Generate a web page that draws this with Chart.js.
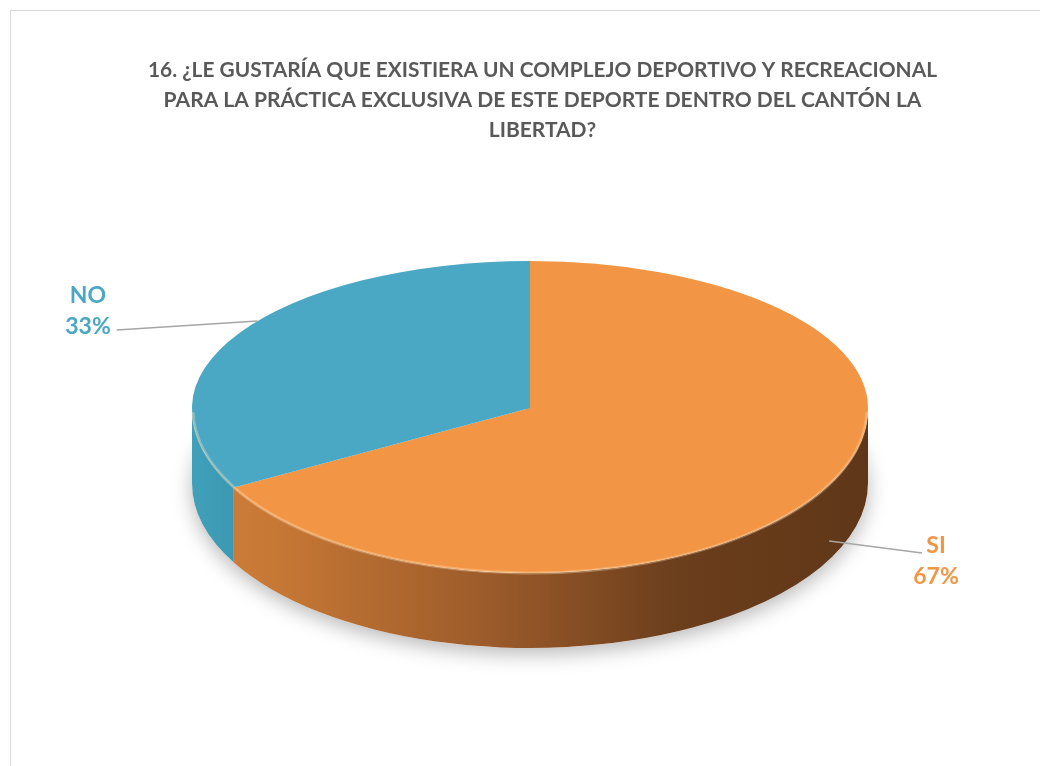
<!DOCTYPE html>
<html lang="es">
<head>
  <meta charset="UTF-8">
  <title>Complejo deportivo y recreacional</title>
  <script src="https://cdn.jsdelivr.net/npm/chart.js"></script>
  <style>
    html, body {
      margin: 0;
      padding: 0;
      background: #fff;
      overflow: hidden;
    }
    .frame {
      position: absolute;
      left: 10px;
      top: 10px;
      width: 1100px;
      height: 900px;
      border: 1px solid #d9d9d9;
    }
    #chart {
      position: absolute;
      left: 0;
      top: 0;
    }
  </style>
</head>
<body>
  <div class="frame"></div>
  <canvas id="chart" width="1040" height="766"></canvas>

  <script>
    // data
    const categories = ['SI', 'NO'];
    const values = [67, 33];
    const topColors = ['#F29544', '#4AA8C4'];
    const titleLines = [
      '16. ¿LE GUSTARÍA QUE EXISTIERA UN COMPLEJO DEPORTIVO Y RECREACIONAL',
      'PARA LA PRÁCTICA EXCLUSIVA DE ESTE DEPORTE DENTRO DEL CANTÓN LA',
      'LIBERTAD?'
    ];

    // where the tilted pie sits on the page
    const pie = { cx: 530, cy: 408, rx: 338, ryBack: 147, ryFront: 165, depth: 75 };

    function sideGradient(ctx, i) {
      const g = ctx.createLinearGradient(pie.cx - pie.rx, 0, pie.cx + pie.rx, 0);
      if (i === 0) {
        g.addColorStop(0, '#cf7f3d');
        g.addColorStop(0.12, '#c77835');
        g.addColorStop(0.45, '#9a5a2a');
        g.addColorStop(0.72, '#6b3e1c');
        g.addColorStop(1, '#5f3718');
      } else {
        g.addColorStop(0, '#40a0ba');
        g.addColorStop(0.1, '#3b93ab');
        g.addColorStop(1, '#2c6f82');
      }
      return g;
    }

    // map an arc angle onto the tilted top face
    function rimPoint(a, drop) {
      const front = Math.sin(a) > 0;
      const ry = front ? pie.ryFront : pie.ryBack;
      return {
        x: pie.cx + pie.rx * Math.cos(a),
        y: pie.cy + ry * Math.sin(a) + (front ? drop : 0)
      };
    }

    const tiltPlugin = {
      id: 'tilt',
      beforeDatasetsDraw(chart) {
        const ctx = chart.ctx;
        const arcs = chart.getDatasetMeta(0).data;
        if (!arcs.length) return false;
        const x0 = arcs[0].x, y0 = arcs[0].y, R = arcs[0].outerRadius;

        // soft shadow under the disc
        ctx.save();
        ctx.shadowColor = 'rgba(0,0,0,0.28)';
        ctx.shadowBlur = 20;
        ctx.shadowOffsetY = 6;
        ctx.fillStyle = '#fff';
        ctx.beginPath();
        ctx.ellipse(pie.cx, pie.cy + pie.depth, pie.rx, pie.ryFront, 0, 0, Math.PI * 2);
        ctx.fill();
        ctx.restore();

        // side walls, front half only
        arcs.forEach((arc, i) => {
          const s = arc.startAngle, e = arc.endAngle;
          for (let k = -1; k <= 1; k++) {
            const off = Math.PI * 2 * k;
            const lo = Math.max(s, off), hi = Math.min(e, Math.PI + off);
            if (lo >= hi) continue;
            const a1 = lo - off, a2 = hi - off;
            ctx.save();
            ctx.beginPath();
            ctx.ellipse(pie.cx, pie.cy, pie.rx, pie.ryFront, 0, a1, a2);
            ctx.ellipse(pie.cx, pie.cy + pie.depth, pie.rx, pie.ryFront, 0, a2, a1, true);
            ctx.closePath();
            ctx.fillStyle = sideGradient(ctx, i);
            ctx.fill();
            ctx.restore();
          }
        });

        // top face: back half and front half drawn with their own squash
        const drawTop = (ry, clipTop, clipBottom) => {
          ctx.save();
          ctx.beginPath();
          ctx.rect(0, clipTop, chart.width, clipBottom - clipTop);
          ctx.clip();
          ctx.translate(pie.cx, pie.cy);
          ctx.scale(pie.rx / R, ry / R);
          ctx.translate(-x0, -y0);
          arcs.forEach(arc => arc.draw(ctx));
          ctx.restore();
        };
        drawTop(pie.ryBack, 0, pie.cy + 1);
        drawTop(pie.ryFront, pie.cy, chart.height);

        // light bevel along the front rim
        ctx.save();
        ctx.beginPath();
        ctx.ellipse(pie.cx, pie.cy + 1, pie.rx - 1, pie.ryFront - 1, 0, 0.02, Math.PI - 0.02);
        ctx.strokeStyle = 'rgba(255,225,190,0.35)';
        ctx.lineWidth = 3;
        ctx.stroke();
        ctx.restore();
        return false;
      },
      afterDraw(chart) {
        const ctx = chart.ctx;
        const arcs = chart.getDatasetMeta(0).data;
        const total = values.reduce((a, b) => a + b, 0);
        // label blocks beside the pie
        const spots = [
          { tx: 936, ty: 546, side: 'right' },
          { tx: 88, ty: 296, side: 'left' }
        ];
        arcs.forEach((arc, i) => {
          const mid = (arc.startAngle + arc.endAngle) / 2;
          const p = rimPoint(mid + (i === 1 ? 0.1 : -0.05), pie.depth * 0.75);
          const sp = spots[i];
          const pct = Math.round(values[i] / total * 100) + '%';
          ctx.save();
          ctx.font = 'bold 23px Lato';
          ctx.fillStyle = topColors[i];
          ctx.textAlign = 'center';
          ctx.textBaseline = 'middle';
          ctx.fillText(categories[i], sp.tx, sp.ty);
          ctx.fillText(pct, sp.tx, sp.ty + 31);
          const w = ctx.measureText(pct).width;
          let ex, ey;
          if (sp.side === 'left') {
            ex = sp.tx + w / 2 + 6;
            ey = sp.ty + 34;
          } else {
            ex = sp.tx - 14;
            ey = sp.ty + 7;
          }
          ctx.beginPath();
          ctx.moveTo(p.x, p.y);
          ctx.lineTo(ex, ey);
          ctx.strokeStyle = '#a6a6a6';
          ctx.lineWidth = 1.5;
          ctx.stroke();
          ctx.restore();
        });
      }
    };

    new Chart(document.getElementById('chart'), {
      type: 'pie',
      data: {
        labels: categories,
        datasets: [{
          data: values,
          backgroundColor: topColors,
          borderWidth: 0
        }]
      },
      options: {
        responsive: false,
        devicePixelRatio: 1,
        animation: false,
        layout: { padding: { left: 148, right: 103, top: 0, bottom: 40 } },
        plugins: {
          legend: { display: false },
          tooltip: { enabled: false },
          title: {
            display: true,
            text: titleLines,
            color: '#595959',
            font: { family: 'Lato', size: 21, weight: 'bold', lineHeight: '30px' },
            padding: { top: 55, bottom: 20 }
          }
        }
      },
      plugins: [tiltPlugin]
    });
  </script>
</body>
</html>
